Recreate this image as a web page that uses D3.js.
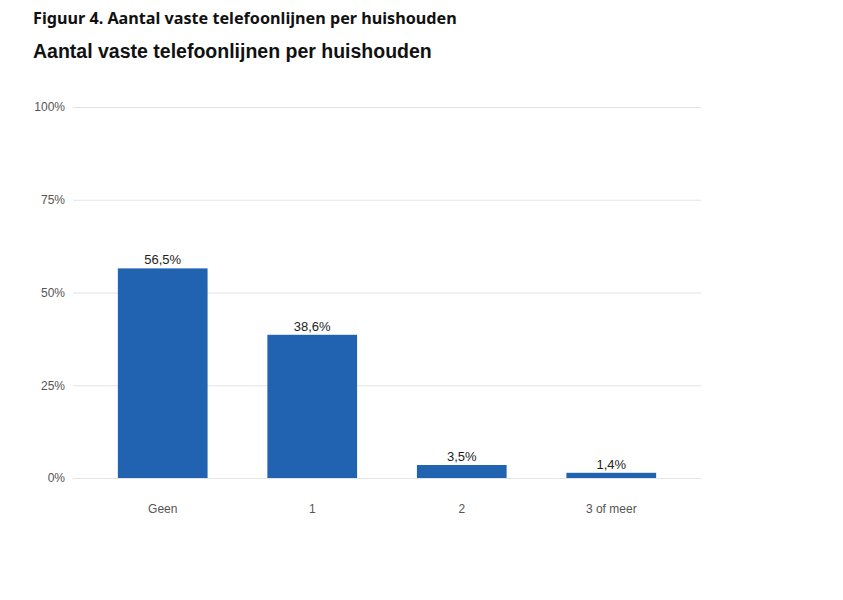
<!DOCTYPE html>
<html>
<head>
<meta charset="utf-8">
<script src="https://cdn.jsdelivr.net/npm/d3@7"></script>
<style>
  body { margin: 0; background: #fff; }
  svg { display: block; }
</style>
</head>
<body>
<svg id="chart" width="843" height="600"></svg>
<script>
const figureTitle = "Figuur 4. Aantal vaste telefoonlijnen per huishouden";
const chartTitle = "Aantal vaste telefoonlijnen per huishouden";
const categories = ["Geen", "1", "2", "3 of meer"];
const values = [56.5, 38.6, 3.5, 1.4];
const valueLabels = ["56,5%", "38,6%", "3,5%", "1,4%"];
const yTicks = [0, 25, 50, 75, 100];
const yTickLabels = ["0%", "25%", "50%", "75%", "100%"];

(function () {
const svg = d3.select("#chart");
const plotLeft = 73, plotRight = 701, plotTop = 107, plotBottom = 478;

const x = d3.scaleBand().domain(categories).range([plotLeft, plotRight])
  .paddingInner(0.4).paddingOuter(0.3);
const y = d3.scaleLinear().domain([0, 100]).range([plotBottom, plotTop]);

// Titles
const t1 = svg.append("text")
  .attr("x", 33).attr("y", 24)
  .attr("font-family", "Noto Sans, sans-serif")
  .attr("font-weight", 700)
  .attr("font-size", 16)
  .attr("fill", "#111")
  .text(figureTitle);
{
  const w = t1.node().getComputedTextLength();
  t1.attr("font-size", 16 * 424 / w);
}
const t2 = svg.append("text")
  .attr("x", 33).attr("y", 58)
  .attr("font-family", "Liberation Sans, Arial, sans-serif")
  .attr("font-weight", 700)
  .attr("font-size", 19)
  .attr("fill", "#111")
  .text(chartTitle);
{
  const w = t2.node().getComputedTextLength();
  t2.attr("font-size", 19 * 399 / w);
}

// Gridlines + y labels
const yAxis = d3.axisLeft(y).tickValues(yTicks)
  .tickSize(-(plotRight - plotLeft))
  .tickPadding(8)
  .tickFormat((d, i) => yTickLabels[i]);
const gy = svg.append("g").attr("transform", `translate(${plotLeft},0)`).call(yAxis);
gy.select(".domain").remove();
gy.selectAll(".tick line").attr("stroke", "#e3e3e3").attr("stroke-width", 1.2);
gy.selectAll(".tick text")
  .attr("font-family", "Liberation Sans, Arial, sans-serif")
  .attr("font-size", 12).attr("fill", "#555");

// Bars
svg.append("g").selectAll("rect").data(values).join("rect")
  .attr("x", (d, i) => x(categories[i]))
  .attr("width", x.bandwidth())
  .attr("y", d => y(d))
  .attr("height", d => y(0) - y(d))
  .attr("fill", "#2163b0");

// Value labels
svg.append("g").selectAll("text").data(values).join("text")
  .attr("x", (d, i) => x(categories[i]) + x.bandwidth() / 2)
  .attr("y", d => y(d) - 4)
  .attr("text-anchor", "middle")
  .attr("font-family", "Liberation Sans, Arial, sans-serif")
  .attr("font-size", 13).attr("fill", "#222")
  .text((d, i) => valueLabels[i]);

// X axis labels
const xAxis = d3.axisBottom(x).tickSize(0).tickPadding(26);
const gx = svg.append("g").attr("transform", `translate(0,${plotBottom})`).call(xAxis);
gx.select(".domain").remove();
gx.selectAll(".tick text")
  .attr("font-family", "Liberation Sans, Arial, sans-serif")
  .attr("font-size", 12).attr("fill", "#555");
})();
</script>
</body>
</html>
